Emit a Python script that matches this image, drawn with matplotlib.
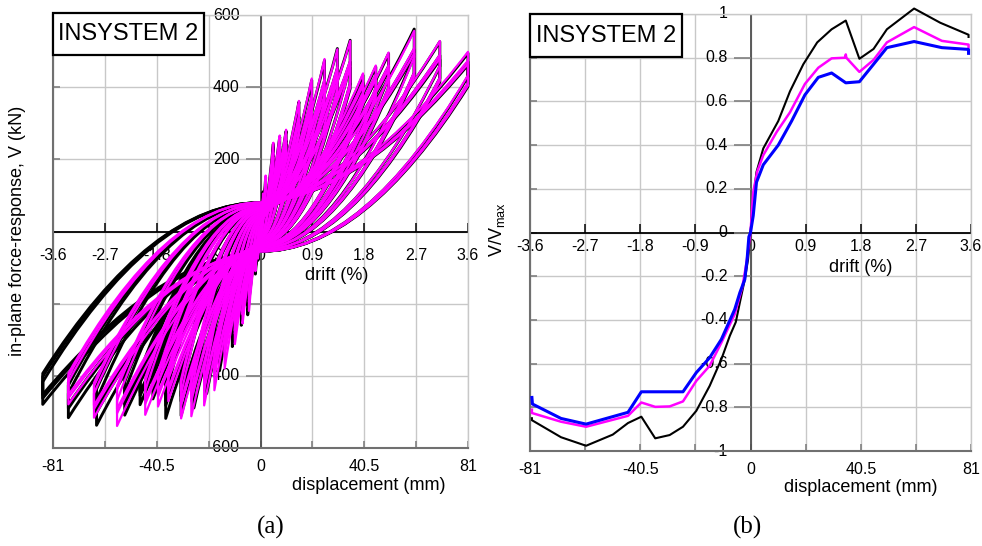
import numpy as np
import matplotlib
matplotlib.use("Agg")
import matplotlib.pyplot as plt
from matplotlib.path import Path
from matplotlib.patches import PathPatch, Rectangle

plt.rcParams['font.family'] = ['Liberation Sans', 'DejaVu Sans']

# --- cyclic response (kN vs mm): three cycles per amplitude level ---
amp_pos_exp = [1, 2, 5, 7.5, 10, 15, 20, 25, 30, 35, 40, 45, 50, 60, 70, 81]
peak_pos_exp = [[110, 95, 90], [150, 132, 125], [243, 212, 202], [262, 236, 228], [278, 252, 244],
                [359, 318, 305], [419, 372, 358], [474, 418, 402], [507, 452, 436],
                [530, 470, 455], [433, 412, 402], [456, 432, 420], [493, 458, 446],
                [561, 505, 490], [526, 488, 476], [494, 470, 462]]
amp_neg_exp = [1, 2, 5, 7.5, 11, 16, 21, 26, 31, 37, 42, 47, 53, 64, 75, 85]
peak_neg_exp = [[-80, -70, -65], [-118, -104, -98], [-231, -205, -196], [-260, -234, -225],
                [-319, -290, -280], [-386, -350, -338], [-449, -410, -396], [-489, -446, -432],
                [-510, -470, -456], [-518, -482, -470], [-464, -442, -432], [-480, -455, -445],
                [-509, -478, -466], [-537, -502, -490], [-516, -490, -480], [-479, -462, -452]]

amp_pos_num = [1, 2, 5, 7.5, 10, 15, 20, 25, 30, 35, 40, 45, 50, 60, 70, 81]
peak_pos_num = [[105, 92, 88], [155, 135, 128], [246, 218, 206], [266, 240, 230], [282, 256, 246],
                [362, 322, 308], [424, 376, 362], [478, 422, 406], [505, 455, 440],
                [528, 474, 458], [438, 415, 405], [460, 435, 424], [496, 460, 450],
                [556, 508, 494], [528, 490, 480], [498, 474, 465]]
amp_neg_num = [1, 2, 4.5, 7, 10, 14, 18, 22, 27, 31, 36, 40, 45, 56, 65, 75]
peak_neg_num = [[-75, -66, -62], [-110, -98, -92], [-220, -196, -188], [-255, -230, -222],
                [-312, -284, -275], [-380, -345, -333], [-440, -402, -390], [-482, -440, -428],
                [-512, -470, -456], [-518, -482, -470], [-470, -446, -436], [-485, -458, -448],
                [-508, -478, -466], [-539, -504, -492], [-516, -492, -482], [-479, -462, -452]]

# force where the branches cross zero displacement, per amplitude level
zero_disp_upper = [8, 15, 25, 30, 35, 40, 45, 50, 55, 60, 62, 65, 68, 72, 76, 80]
zero_disp_lower = [-4, -8, -12, -15, -18, -22, -25, -28, -32, -35, -38, -40, -43, -47, -51, -55]

# --- normalised envelopes V/Vmax vs displacement (mm) ---
env_exp_x = [-80.3, -80.3, -69.6, -60.4, -50.6, -45.0, -40.1, -35.0, -29.7, -24.8, -19.9, -15.0,
             -10.7, -7.6, -5.4, -3.9, -2.1, -0.9, 0, 1.0, 2.2, 4.7, 10.2, 14.5, 19.4, 24.5,
             29.8, 35.0, 40.0, 45.2, 50.1, 60.1, 69.7, 80.1, 80.1]
env_exp_y = [-0.85, -0.859, -0.937, -0.976, -0.925, -0.872, -0.843, -0.942, -0.927, -0.889,
             -0.816, -0.702, -0.58, -0.473, -0.41, -0.32, -0.215, -0.123, 0, 0.154, 0.277,
             0.385, 0.51, 0.646, 0.77, 0.87, 0.93, 0.97, 0.795, 0.84, 0.93, 1.025, 0.96,
             0.905, 0.895]
env_num_x = [-80.3, -80.3, -69.6, -60.4, -45.0, -40.1, -35.0, -29.7, -24.8, -19.9, -15.0,
             -10.7, -5.8, -3.0, -1.5, 0, 1.0, 2.5, 4.7, 9.6, 14.5, 20.0, 24.9, 29.8, 34.8,
             35.0, 35.2, 40.0, 45.2, 50.1, 60.1, 70.3, 80.1, 80.1]
env_num_y = [-0.811, -0.826, -0.866, -0.889, -0.839, -0.778, -0.798, -0.796, -0.773, -0.679,
             -0.61, -0.504, -0.374, -0.25, -0.14, 0, 0.185, 0.28, 0.354, 0.46, 0.55, 0.68,
             0.754, 0.797, 0.80, 0.815, 0.80, 0.735, 0.79, 0.87, 0.94, 0.877, 0.86, 0.85]
env_mod_x = [-80.3, -80.1, -69.6, -60.4, -45.0, -40.1, -24.8, -19.9, -15.0, -10.7, -5.8, -3.9,
             -2.1, -1.25, -0.6, 0, 1.0, 2.2, 4.7, 10.2, 15.1, 20.0, 24.9, 29.8, 35.0, 40.0,
             45.2, 50.1, 60.1, 70.3, 80.1, 80.1]
env_mod_y = [-0.755, -0.785, -0.851, -0.877, -0.823, -0.729, -0.729, -0.641, -0.573, -0.489,
             -0.352, -0.275, -0.215, -0.123, -0.02, 0, 0.077, 0.23, 0.31, 0.40, 0.51, 0.63,
             0.71, 0.73, 0.685, 0.69, 0.77, 0.846, 0.874, 0.846, 0.838, 0.82]

drift_labels = ['-3.6', '-2.7', '-1.8', '-0.9', '0', '0.9', '1.8', '2.7', '3.6']
disp_labels = ['-81', '', '-40.5', '', '0', '', '40.5', '', '81']
grid_x = np.linspace(-81, 81, 9)

DROP = 0.87
C4 = Path.CURVE4


def loop_patch(dp, fp, dn, fn, top, bot, color, lw, z):
    rp, rn = DROP * fp, DROP * fn
    verts = [(0, top),
             (dp / 3, top + 0.03 * (fp - top)), (2 * dp / 3, top + 0.40 * (fp - top)), (dp, fp),
             (dp, rp),
             (2 * dp / 3, bot + (rp - bot) / 3), (dp / 3, bot), (0, bot),
             (-dn / 3, bot + 0.03 * (fn - bot)), (-2 * dn / 3, bot + 0.40 * (fn - bot)), (-dn, fn),
             (-dn, rn),
             (-2 * dn / 3, top + (rn - top) / 3), (-dn / 3, top), (0, top)]
    codes = [Path.MOVETO, C4, C4, C4, Path.LINETO, C4, C4, C4, C4, C4, C4,
             Path.LINETO, C4, C4, C4]
    return PathPatch(Path(verts, codes), fill=False, ec=color, lw=lw,
                     joinstyle='round', zorder=z, clip_on=False)


def draw_loops(ax, amp_p, peak_p, amp_n, peak_n, color, lw, z):
    for i in range(len(amp_p)):
        for fp, fn in zip(peak_p[i], peak_n[i]):
            ax.add_patch(loop_patch(amp_p[i], fp, amp_n[i], fn, zero_disp_upper[i],
                                    zero_disp_lower[i], color, lw, z))


def style_axes(ax, ymax, ystep, ylabels, ytick_w, drift_gap, label_gap):
    ax.set_xlim(-81, 81)
    ax.set_ylim(-ymax, ymax)
    ax.set_xticks(grid_x)
    ax.set_xticklabels(disp_labels, fontsize=11.5)
    ax.set_yticks(np.arange(-ymax, ymax + ystep / 2, ystep))
    ax.tick_params(labelleft=False, direction='in', length=5, color='#808080',
                   width=1.2, pad=8)
    ax.grid(True, color='#c8c8c8', lw=1)
    ax.set_axisbelow(True)
    for s in ['top', 'right']:
        ax.spines[s].set_color('#c8c8c8')
        ax.spines[s].set_linewidth(1)
    for s in ['left', 'bottom']:
        ax.spines[s].set_color('#707070')
        ax.spines[s].set_linewidth(1.5)
    # axes through the origin
    ax.axhline(0, color='black', lw=1.3, zorder=2)
    ax.axvline(0, color='#505050', lw=1.3, zorder=2)
    ax.vlines(grid_x, 0, 0.04 * ymax, color='black', lw=1.1, zorder=2)
    ax.hlines(ylabels, -ytick_w, 0, color='#808080', lw=1.2, zorder=2)
    for x, lab in zip(grid_x, drift_labels):
        ax.text(x, -drift_gap, lab, ha='center', va='top', fontsize=11.5, zorder=1)
    for y in ylabels:
        ax.text(-label_gap, y, f'{y:g}', ha='right', va='center', fontsize=11.5, zorder=1)


fig = plt.figure(figsize=(9.82, 5.46), dpi=100)
W, H = 982, 546
axa = fig.add_axes([53 / W, 1 - 448 / H, 415 / W, 433 / H])
axb = fig.add_axes([530 / W, 1 - 451 / H, 441 / W, 437 / H])

# (a) hysteresis loops: test (black) under model (magenta)
style_axes(axa, 600, 200, [600, 400, 200, -200, -400, -600], 5.5, 46, 8.2)
draw_loops(axa, amp_pos_exp, peak_pos_exp, amp_neg_exp, peak_neg_exp, 'black', 2.1, 3)
draw_loops(axa, amp_pos_num, peak_pos_num, amp_neg_num, peak_neg_num, '#ff00ff', 1.6, 4)

# (b) envelopes
style_axes(axb, 1, 0.2, [1, 0.8, 0.6, 0.4, 0.2, 0, -0.2, -0.4, -0.6, -0.8, -1], 6.2, 0.03, 8.4)
axb.plot(env_exp_x, env_exp_y, color='black', lw=1.5, zorder=3, clip_on=False)
axb.plot(env_num_x, env_num_y, color='#ff00ff', lw=1.8, zorder=4, clip_on=False)
axb.plot(env_mod_x, env_mod_y, color='#0000ff', lw=2.2, zorder=5, clip_on=False)

# title boxes
for x0, y0, x1, y1 in [(53, 13, 204, 55), (530, 14, 682, 57)]:
    fig.patches.append(Rectangle((x0 / W, 1 - y1 / H), (x1 - x0) / W, (y1 - y0) / H,
                                 transform=fig.transFigure, fc='white', ec='black',
                                 lw=1.6, zorder=10))
    fig.text((x0 + x1) / 2 / W, 1 - (y0 + y1) / 2 / H, 'INSYSTEM 2', ha='center',
             va='center', fontsize=17, zorder=11)

fig.text(337 / W, 1 - 275 / H, 'drift (%)', ha='center', va='center', fontsize=13)
fig.text(861 / W, 1 - 268 / H, 'drift (%)', ha='center', va='center', fontsize=13)
fig.text(369 / W, 1 - 486 / H, 'displacement (mm)', ha='center', va='center', fontsize=13)
fig.text(861 / W, 1 - 488 / H, 'displacement (mm)', ha='center', va='center', fontsize=13)
fig.text(18 / W, 1 - 231 / H, 'in-plane force-response, V (kN)', rotation=90,
         ha='center', va='center', fontsize=13)
fig.text(497 / W, 1 - 230 / H, r'V/V$_\mathregular{max}$', rotation=90,
         ha='center', va='center', fontsize=13)
fig.text(271 / W, 1 - 527 / H, '(a)', ha='center', va='center', fontsize=18,
         family='Liberation Serif')
fig.text(748 / W, 1 - 527 / H, '(b)', ha='center', va='center', fontsize=18,
         family='Liberation Serif')

fig.savefig('out.png', dpi=100)
